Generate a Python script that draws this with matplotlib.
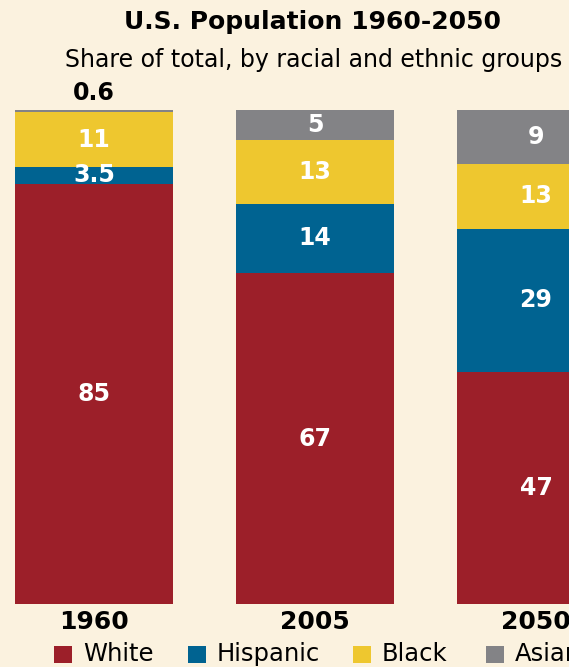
import numpy as np
import matplotlib.pyplot as plt
from matplotlib.patches import Rectangle

years = ["1960", "2005", "2050"]
white = np.array([85, 67, 47])
hispanic = np.array([3.5, 14, 29])
black = np.array([11, 13, 13])
asian = np.array([0.6, 5, 9])

groups = ["White", "Hispanic", "Black", "Asian"]
colors = ["#9c1f29", "#006391", "#eec72f", "#838386"]
bg = "#fbf2df"

# asian share is drawn up to the 100% line, as in the original graphic
asian_drawn = np.maximum(asian, 100 - (white + hispanic + black))

fig = plt.figure(figsize=(5.69, 6.67), dpi=100, facecolor=bg)
ax = fig.add_axes([0, 63 / 667, 1, 494 / 667])
ax.set_facecolor(bg)

x = np.arange(len(years))
width = 0.715
bottom = np.zeros(len(years))
for vals, drawn, color in zip([white, hispanic, black, asian],
                              [white, hispanic, black, asian_drawn], colors):
    ax.bar(x, drawn, width, bottom=bottom, color=color, linewidth=0)
    for i in range(len(years)):
        if drawn[i] < 2:
            # too thin for a label inside, put it above the bar
            ax.text(x[i], bottom[i] + drawn[i] + 1.0, f"{vals[i]:g}", ha="center",
                    va="bottom", color="black", fontsize=17, fontweight="bold")
        else:
            ax.text(x[i], bottom[i] + drawn[i] / 2, f"{vals[i]:g}", ha="center",
                    va="center", color="white", fontsize=17, fontweight="bold")
    bottom += drawn

ax.set_xlim(-94 / 221, (569 - 94) / 221)
ax.set_ylim(0, 100)
ax.set_yticks([])
ax.set_xticks(x, years)
ax.tick_params(axis="x", length=0, pad=4, labelsize=18)
for lbl in ax.get_xticklabels():
    lbl.set_fontweight("bold")
for s in ax.spines.values():
    s.set_visible(False)

fig.text(313 / 569, 1 - 22 / 667, "U.S. Population 1960-2050", ha="center",
         va="center", fontsize=18, fontweight="bold")
fig.text(314 / 569, 1 - 60 / 667, "Share of total, by racial and ethnic groups",
         ha="center", va="center", fontsize=17)

# legend row along the bottom
sq_x = [54, 188, 353, 486]
for px, name, color in zip(sq_x, groups, colors):
    fig.patches.append(Rectangle((px / 569, (667 - 663) / 667), 18 / 569, 17 / 667,
                                 transform=fig.transFigure, color=color, linewidth=0))
    fig.text((px + 29) / 569, (667 - 654) / 667, name, ha="left", va="center",
             fontsize=17.5)

fig.savefig("out.png", dpi=100, facecolor=bg)
